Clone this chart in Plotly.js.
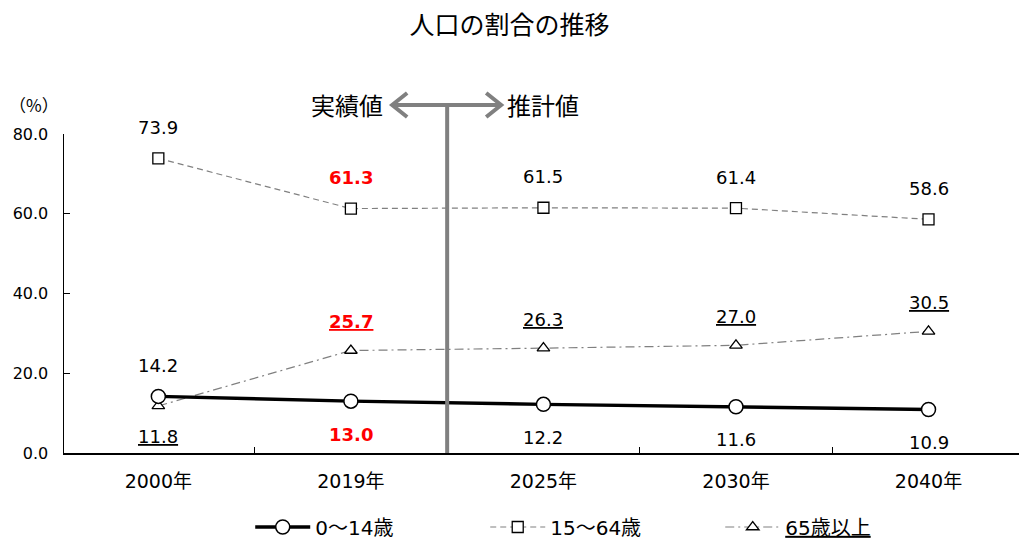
<!DOCTYPE html>
<html><head><meta charset="utf-8">
<script src="https://cdn.plot.ly/plotly-3.0.1.min.js"></script>
<style>html,body{margin:0;padding:0;background:#fff}</style>
</head><body><div id="chart" style="width:1019px;height:539px"></div>
<script>
const years = ["2000年","2019年","2025年","2030年","2040年"];
const age0_14 = [14.2, 13.0, 12.2, 11.6, 10.9];
const age15_64 = [73.9, 61.3, 61.5, 61.4, 58.6];
const age65 = [11.8, 25.7, 26.3, 27.0, 30.5];
const seriesNames = ["0～14歳", "15～64歳", "65歳以上"];
const yTicks = [0, 20, 40, 60, 80];
const highlightIndex = 1;

const FONT = '"DejaVu Sans", "Noto Sans CJK JP", sans-serif';
const CJK = '"Noto Sans CJK JP", sans-serif';

const traces = [
  {x: years, y: age65, name: "<u>" + seriesNames[2] + "</u>", type: 'scatter', mode: 'lines+markers',
   line: {color: '#808080', width: 1.2, dash: '9px,4px,2px,4px'},
   marker: {symbol: 'triangle-up', size: 11, color: '#fff', line: {color: '#000', width: 1.3}}},
  {x: years, y: age15_64, name: seriesNames[1], type: 'scatter', mode: 'lines+markers',
   line: {color: '#808080', width: 1.2, dash: '6px,4px'},
   marker: {symbol: 'square', size: 11, color: '#fff', line: {color: '#000', width: 1.3}}},
  {x: years, y: age0_14, name: seriesNames[0], type: 'scatter', mode: 'lines+markers',
   line: {color: '#000', width: 3.4},
   marker: {symbol: 'circle', size: 14, color: '#fff', line: {color: '#000', width: 1.5}}}
];

function fmt(v){ return v.toFixed(1); }
const annotations = [];
function addLabels(vals, shifts, underline){
  vals.forEach((v, i) => {
    const hi = i === highlightIndex;
    let t = fmt(v);
    if (hi) t = '<b>' + t + '</b>';
    if (underline) t = '<u>' + t + '</u>';
    annotations.push({x: years[i], y: v, xref: 'x', yref: 'y', text: t, showarrow: false,
      yshift: shifts[i], font: {family: FONT, size: 18, color: hi ? '#ff0000' : '#000'}});
  });
}
addLabels(age0_14, [31, -33, -33, -33, -33], false);
addLabels(age15_64, [31, 31, 31, 31, 31], false);
addLabels(age65, [-31, 29, 29, 29, 29], true);

annotations.push({xref: 'paper', yref: 'paper', x: -0.0314, y: 1.092, xanchor: 'center', yanchor: 'middle', text: '（%）', showarrow: false,
  font: {family: CJK, size: 17, color: '#000'}});
annotations.push({xref: 'x', yref: 'paper', x: 1.5, y: 1.091, yanchor: 'middle', xshift: -62, xanchor: 'right', text: '実績値', showarrow: false,
  font: {family: CJK, size: 24, color: '#000'}});
annotations.push({xref: 'x', yref: 'paper', x: 1.5, y: 1.091, yanchor: 'middle', xshift: 58, xanchor: 'left', text: '推計値', showarrow: false,
  font: {family: CJK, size: 24, color: '#000'}});

const G = '#808080';
const AY = 1.091;
const shapes = [
  {type: 'line', xref: 'x', yref: 'paper', x0: 1.5, x1: 1.5, y0: 0, y1: AY, line: {color: G, width: 4}, layer: 'above'},
  {type: 'line', xref: 'x', yref: 'paper', xsizemode: 'pixel', xanchor: 1.5, x0: -55, x1: 54, y0: AY, y1: AY, line: {color: G, width: 4}},
  {type: 'path', xref: 'x', yref: 'paper', xsizemode: 'pixel', xanchor: 1.5, ysizemode: 'pixel', yanchor: AY,
   path: 'M -40 12 L -55 0 L -40 -12', line: {color: G, width: 4}},
  {type: 'path', xref: 'x', yref: 'paper', xsizemode: 'pixel', xanchor: 1.5, ysizemode: 'pixel', yanchor: AY,
   path: 'M 39 12 L 54 0 L 39 -12', line: {color: G, width: 4}}
];

const layout = {
  width: 1019, height: 539,
  margin: {l: 64, r: 0, t: 134, b: 86, autoexpand: false},
  paper_bgcolor: '#fff', plot_bgcolor: '#fff',
  font: {family: FONT, size: 17, color: '#000'},
  title: {text: '人口の割合の推移', x: 0.5, xanchor: 'center', y: 0.954, yanchor: 'middle',
    font: {family: CJK, size: 25, color: '#000'}},
  xaxis: {type: 'category', range: [-0.49, 4.47], showline: true, linecolor: '#000', linewidth: 1.5,
    ticks: 'inside', tickson: 'boundaries', ticklen: 6, tickcolor: '#000', tickwidth: 1.3,
    showgrid: false, zeroline: false, ticklabelstandoff: 11, tickfont: {family: FONT, size: 19, color: '#000'}},
  yaxis: {range: [0, 80], tickvals: yTicks, tickformat: '.1f', showline: true, linecolor: '#000', linewidth: 1.5,
    ticks: 'inside', ticklen: 6, tickcolor: '#000', tickwidth: 1.3, showgrid: false, zeroline: false,
    ticklabelstandoff: 11, tickfont: {family: FONT, size: 16, color: '#000'}},
  showlegend: true,
  legend: {orientation: 'h', traceorder: 'reversed', x: 0.195, xanchor: 'left', y: -0.232, yanchor: 'middle',
    itemwidth: 55, entrywidth: 165, font: {family: FONT, size: 20, color: '#000'}, bgcolor: 'rgba(0,0,0,0)'},
  annotations: annotations,
  shapes: shapes
};

Plotly.newPlot('chart', traces, layout, {displayModeBar: false, staticPlot: true});
</script></body></html>
